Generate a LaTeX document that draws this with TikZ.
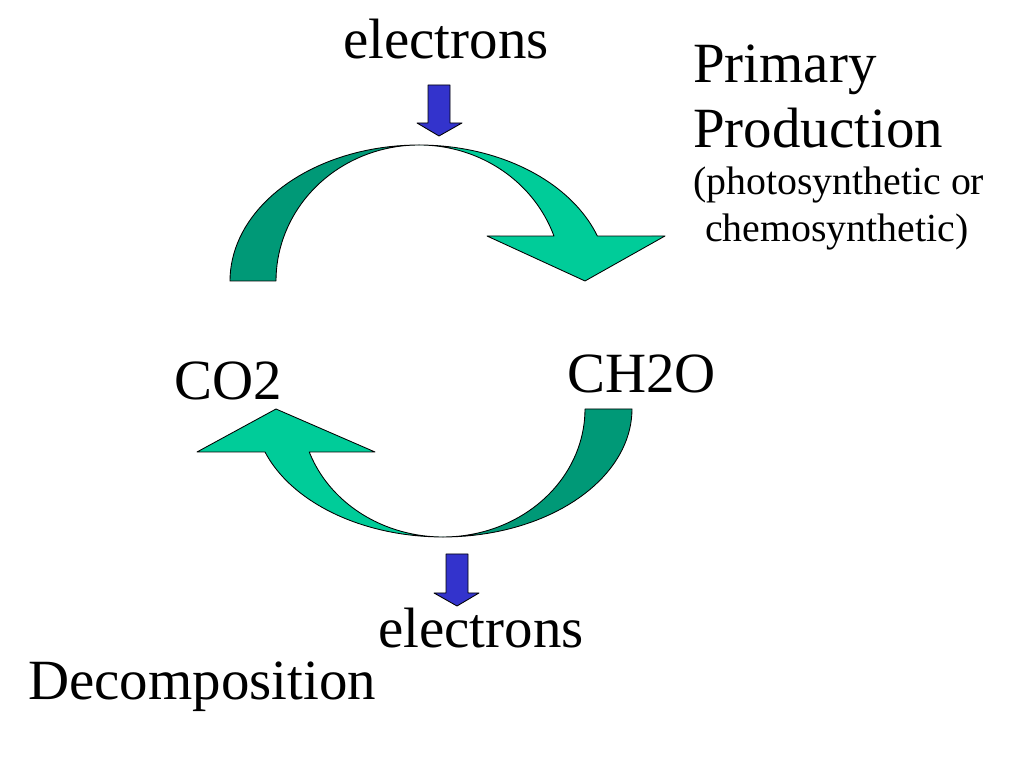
\documentclass[tikz,border=0pt]{standalone}
\usepackage{fontspec}
\setmainfont{Liberation Serif}
\definecolor{CycleDark}{RGB}{0, 153, 119}
\definecolor{CycleLight}{RGB}{0, 204, 153}
\definecolor{ElectronBlue}{RGB}{51, 51, 204}

\begin{document}
\begin{tikzpicture}[x=0.703125pt, y=0.703125pt,
    band/.style={draw=black, line width=0.6pt, line join=round},
    bigtext/.style={font=\fontsize{40}{46}\selectfont, inner sep=0pt, anchor=base west},
    smalltext/.style={font=\fontsize{28}{33}\selectfont, inner sep=0pt, anchor=base west}]
    \fill[white] (0,0) rectangle (1024,768);
    \useasboundingbox (0,0) rectangle (1024,768);

    % Upper arc, back face
    \filldraw[band, fill=CycleDark] plot[domain=180:90, samples=40] ({419+189*cos(\x)}, {487+136*sin(\x)})
        -- plot[domain=90:180, samples=40] ({419+143*cos(\x)}, {487+136*sin(\x)}) -- cycle;

    % Upper arc, front face with head
    \filldraw[band, fill=CycleLight] plot[domain=90:19.3, samples=40] ({419+189*cos(\x)}, {487+136*sin(\x)})
        -- (665,532) -- (585,487) -- (487,532)
        -- plot[domain=19.3:90, samples=40] ({419+143*cos(\x)}, {487+136*sin(\x)}) -- cycle;

    % Lower arc, back face
    \filldraw[band, fill=CycleDark] plot[domain=0:-90, samples=40] ({443+189*cos(\x)}, {359+128*sin(\x)})
        -- plot[domain=-90:0, samples=40] ({443+142*cos(\x)}, {359+128*sin(\x)}) -- cycle;

    % Lower arc, front face with head
    \filldraw[band, fill=CycleLight] plot[domain=-90:-160.4, samples=40] ({443+189*cos(\x)}, {359+128*sin(\x)})
        -- (197,316) -- (276,359) -- (375,316)
        -- plot[domain=-160.4:-90, samples=40] ({443+142*cos(\x)}, {359+128*sin(\x)}) -- cycle;

    % Electron arrows
    \filldraw[band, fill=ElectronBlue] (428,683) -- (450,683) -- (450,645) -- (462,645)
        -- (439,632) -- (417,645) -- (428,645) -- cycle;
    \filldraw[band, fill=ElectronBlue] (446,214) -- (468,214) -- (468,175) -- (479,175)
        -- (457,162) -- (434,175) -- (446,175) -- cycle;

    % Labels
    \node[bigtext] (eIn) at (343,709) {electrons};
    \node[bigtext] (prim) at (693,685) {Primary};
    \node[bigtext] (prod) at (693,620) {Production};
    \node[smalltext] (photo) at (693,573) {(photosynthetic or};
    \node[smalltext] (chemo) at (705,526) {chemosynthetic)};
    \node[bigtext] (co2) at (174,368) {CO2};
    \node[bigtext] (ch2o) at (567,375) {CH2O};
    \node[bigtext] (eOut) at (378,120) {electrons};
    \node[bigtext] (decomp) at (28,68) {Decomposition};
\end{tikzpicture}
\end{document}
